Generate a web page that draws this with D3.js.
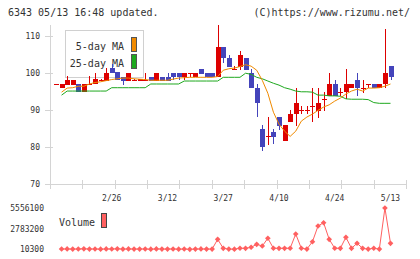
<!DOCTYPE html>
<html>
<head>
<meta charset="utf-8">
<script src="https://cdn.jsdelivr.net/npm/d3@7"></script>
<style>
body { margin: 0; background: #fff; }
svg { display: block; font-family: "DejaVu Sans Mono", monospace; }
.tick-label { font-size: 8px; fill: #333; }
.axis-line { stroke: #d4d4d4; stroke-width: 1; shape-rendering: crispEdges; }
</style>
</head>
<body>
<svg class="chart" width="420" height="259"></svg>
<script>
// trading days shown on the chart
const dates = ["2/10","2/12","2/13","2/14","2/17","2/18","2/19","2/20","2/21","2/25",
    "2/26","2/27","2/28","3/3","3/4","3/5","3/6","3/7","3/10","3/11",
    "3/12","3/13","3/14","3/17","3/18","3/19","3/21","3/24","3/25","3/26",
    "3/27","3/28","3/31","4/1","4/2","4/3","4/4","4/7","4/8","4/9",
    "4/10","4/11","4/14","4/15","4/16","4/17","4/18","4/21","4/22","4/23",
    "4/24","4/25","4/28","4/30","5/1","5/2","5/7","5/8","5/9","5/12",
    "5/13"];

const open = [96.9,95.9,96.7,96.7,97.0,94.8,96.9,97.0,97.9,97.8,
    101.3,100.2,98.8,97.8,98.0,97.9,98.0,98.8,97.8,98.8,
    98.8,99.9,99.9,98.8,99.8,98.8,101.0,99.9,99.9,98.8,
    106.9,104.0,101.0,101.5,104.0,99.9,95.9,84.8,82.8,84.0,
    88.1,81.6,86.7,88.9,89.9,89.9,91.0,89.7,92.8,93.7,
    97.0,94.7,94.8,95.9,98.0,95.8,96.9,97.0,95.9,97.0,
    101.8];
const high = [97.0,97.0,99.1,98.0,97.0,97.0,99.1,99.9,98.3,101.3,
    102.3,100.2,98.8,99.9,98.3,98.3,99.9,98.8,99.9,98.8,
    99.9,99.9,99.9,99.9,99.9,99.9,101.0,99.9,99.9,112.9,
    106.9,104.8,101.8,105.8,104.0,101.0,97.0,85.9,88.1,84.8,
    88.1,85.9,89.9,95.9,91.0,91.0,95.9,95.9,94.8,99.9,
    98.0,95.9,101.0,97.0,99.9,98.0,97.0,97.0,97.0,111.8,
    101.8];
const low = [96.9,95.9,96.7,96.7,94.8,94.8,96.7,97.0,97.8,97.8,
    99.9,98.0,96.7,97.8,97.8,97.8,98.0,97.8,97.8,97.8,
    97.8,98.0,98.0,98.0,98.8,98.8,99.6,98.8,98.8,98.8,
    102.6,101.5,100.9,100.7,100.7,95.9,88.1,78.9,80.5,80.8,
    84.6,81.6,86.7,85.6,88.9,88.9,86.7,87.8,89.7,93.7,
    93.7,93.7,92.9,95.9,93.7,94.5,95.9,95.9,95.9,95.9,
    98.0];
const close = [97.0,97.0,98.0,98.0,94.8,97.0,97.0,98.3,98.0,99.9,
    99.9,98.0,97.8,99.9,98.1,98.3,98.1,97.8,99.9,97.8,
    97.8,98.8,98.8,99.9,99.9,99.9,99.6,98.8,98.8,106.9,
    104.0,101.5,101.1,104.8,100.7,95.9,91.8,80.0,82.9,82.7,
    85.6,85.9,88.9,91.8,90.0,90.0,91.1,91.8,92.9,97.0,
    93.7,94.8,97.0,97.0,95.9,95.9,97.0,95.9,97.0,99.9,
    98.8];

// moving averages as drawn (first day has none)
const ma5 = [null,94.8,95.9,96.0,96.4,96.4,97.0,97.4,97.6,97.9,
    98.2,98.4,98.6,98.6,98.4,98.3,98.2,98.0,98.0,98.0,
    98.0,98.3,98.6,98.7,98.8,98.8,98.8,98.8,98.8,99.0,
    100.7,101.1,101.3,101.7,102.2,101.8,100.7,98.0,94.5,89.4,
    86.2,84.3,82.9,84.3,87.0,88.1,88.9,89.9,90.8,91.4,
    92.4,93.2,94.3,95.1,95.6,95.1,95.9,95.9,96.0,96.4,
    97.0];
const ma25 = [null,94.0,95.1,95.1,95.1,95.1,95.1,95.1,95.1,95.1,
    96.0,96.0,96.0,96.0,96.0,96.0,96.0,97.0,97.0,97.0,
    97.0,97.0,97.0,97.8,97.8,97.8,97.8,97.8,97.8,97.8,
    98.8,98.8,98.8,98.8,99.9,99.6,98.8,98.4,97.8,97.2,
    96.7,96.0,95.6,95.1,94.9,94.9,94.8,94.0,94.0,93.8,
    93.8,93.7,93.0,92.9,92.9,92.9,92.8,92.0,91.8,91.8,
    91.8];

const volume = [null,45000,60000,38000,52000,70000,41000,55000,33000,62000,
    48000,75000,40000,58000,36000,44000,51000,29000,66000,37000,
    42000,55000,31000,47000,10300,39000,61000,43000,35000,1350000,
    145000,40000,30000,150000,140000,280000,680000,450000,1490000,150000,
    140000,145000,150000,2060000,150000,40000,1030000,3140000,3580000,1350000,
    150000,145000,1620000,145000,820000,140000,35000,150000,40000,5556100,
    816000];

const xLabels = ["2/26", "3/12", "3/27", "4/10", "4/24", "5/13"];
const yTicks = [70, 80, 90, 100, 110];
const volTicks = [10300, 2783200, 5556100];

const svg = d3.select(".chart");

const x = d3.scalePoint()
    .domain(dates)
    .range([56, 390.5]);

const y = d3.scaleLinear()
    .domain([70, 110])
    .range([184.3, 35.7]);

const grid = d3.scaleLinear()
    .domain([0, 11])
    .range([50, 406]);

const yVol = d3.scaleLinear()
    .domain([10300, 5556100])
    .range([249.3, 208]);

const red = "#dd0000", blue = "#4444bb";
const orange = "#f08a00", green = "#1ea81e", volColor = "#ff6060";

// header
svg.append("text").attr("x", 8).attr("y", 16)
    .style("font-size", "10px").style("fill", "#333")
    .text("6343 05/13 16:48 updated.");
svg.append("text").attr("x", 410).attr("y", 16)
    .attr("text-anchor", "end")
    .style("font-size", "10px").style("fill", "#333")
    .text("(C)https://www.rizumu.net/");

// axes
svg.append("line").attr("class", "axis-line")
    .attr("x1", 50.5).attr("x2", 50.5).attr("y1", 25).attr("y2", 189);
svg.append("line").attr("class", "axis-line")
    .attr("x1", 50).attr("x2", 406).attr("y1", Math.round(y(70)) + 0.5).attr("y2", Math.round(y(70)) + 0.5);

svg.selectAll(".ytick")
    .data(yTicks)
    .enter().append("line")
    .attr("class", "axis-line ytick")
    .attr("x1", 45).attr("x2", 53)
    .attr("y1", d => Math.round(y(d)) + 0.5)
    .attr("y2", d => Math.round(y(d)) + 0.5);

svg.selectAll(".ylabel")
    .data(yTicks)
    .enter().append("text")
    .attr("class", "tick-label ylabel")
    .attr("x", 40)
    .attr("y", d => y(d) + 3)
    .attr("text-anchor", "end")
    .text(d => d);

svg.selectAll(".xtick")
    .data(d3.range(12))
    .enter().append("line")
    .attr("class", "axis-line xtick")
    .attr("x1", d => Math.round(grid(d)) + 0.5)
    .attr("x2", d => Math.round(grid(d)) + 0.5)
    .attr("y1", 180).attr("y2", 189);

svg.selectAll(".xlabel")
    .data(xLabels)
    .enter().append("text")
    .attr("class", "tick-label xlabel")
    .attr("x", d => x(d))
    .attr("y", 201)
    .attr("text-anchor", "middle")
    .text(d => d);

// legend box (candles are drawn over it)
const legend = svg.append("g").attr("class", "legend");
legend.append("rect").attr("x", 65.5).attr("y", 30.5).attr("width", 78).attr("height", 47)
    .style("fill", "#fff").style("stroke", "#d0d0d0");
legend.append("text").attr("x", 124).attr("y", 49.5).attr("text-anchor", "end")
    .style("font-size", "10px").style("fill", "#333").text("5-day MA");
legend.append("text").attr("x", 124).attr("y", 66.5).attr("text-anchor", "end")
    .style("font-size", "10px").style("fill", "#333").text("25-day MA");
legend.append("rect").attr("x", 131.5).attr("y", 37.5).attr("width", 5).attr("height", 14)
    .style("fill", orange).style("stroke", "#555");
legend.append("rect").attr("x", 131.5).attr("y", 54.5).attr("width", 5).attr("height", 14)
    .style("fill", green).style("stroke", "#555");

// candles
const candles = dates.map((d, i) => ({ date: d, o: open[i], h: high[i], l: low[i], c: close[i] }));

svg.selectAll(".wick")
    .data(candles)
    .enter().append("line")
    .attr("class", "wick")
    .attr("x1", d => Math.round(x(d.date)) + 0.5)
    .attr("x2", d => Math.round(x(d.date)) + 0.5)
    .attr("y1", d => y(d.h))
    .attr("y2", d => y(d.l))
    .style("stroke", d => d.c >= d.o ? red : blue)
    .style("stroke-width", 1)
    .style("shape-rendering", "crispEdges");

svg.selectAll(".body")
    .data(candles)
    .enter().append("rect")
    .attr("class", "body")
    .attr("x", d => Math.round(x(d.date)) - 2)
    .attr("width", 5)
    .attr("y", d => y(Math.max(d.o, d.c)))
    .attr("height", d => Math.max(1, Math.abs(y(d.o) - y(d.c))))
    .style("fill", d => d.c >= d.o ? red : blue)
    .style("shape-rendering", "crispEdges");

// moving averages
const maLine = d3.line()
    .defined(d => d.v != null)
    .x(d => x(d.date))
    .y(d => y(d.v));

svg.append("path")
    .datum(dates.map((d, i) => ({ date: d, v: ma25[i] })))
    .attr("d", maLine)
    .style("fill", "none").style("stroke", green).style("stroke-width", 1);

svg.append("path")
    .datum(dates.map((d, i) => ({ date: d, v: ma5[i] })))
    .attr("d", maLine)
    .style("fill", "none").style("stroke", orange).style("stroke-width", 1);

// volume
svg.selectAll(".vlabel")
    .data(volTicks)
    .enter().append("text")
    .attr("class", "tick-label vlabel")
    .attr("x", 44)
    .attr("y", d => yVol(d) + 3)
    .attr("text-anchor", "end")
    .text(d => d);

svg.append("text").attr("x", 59).attr("y", 225.5)
    .style("font-size", "10px").style("fill", "#333").text("Volume");
svg.append("rect").attr("x", 101.5).attr("y", 213.5).attr("width", 5).attr("height", 14)
    .style("fill", volColor).style("stroke", "#444");

const volData = dates.map((d, i) => ({ date: d, v: volume[i] })).filter(d => d.v != null);

const volLine = d3.line()
    .x(d => x(d.date))
    .y(d => yVol(d.v));

svg.append("path")
    .datum(volData)
    .attr("d", volLine)
    .style("fill", "none").style("stroke", volColor).style("stroke-width", 1);

svg.selectAll(".vdot")
    .data(volData)
    .enter().append("path")
    .attr("class", "vdot")
    .attr("d", d3.symbol(d3.symbolSquare, 16))
    .attr("transform", d => `translate(${x(d.date)},${yVol(d.v)}) rotate(45)`)
    .style("fill", volColor);
</script>
</body>
</html>
